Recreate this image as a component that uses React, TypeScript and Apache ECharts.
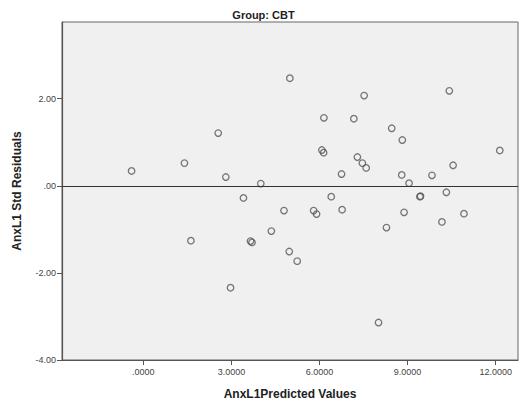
import React, { useEffect, useRef } from "react";
import * as echarts from "echarts";

// Predicted values (x) and standardized residuals (y), group CBT
const predicted = [
  -0.4, 1.4, 1.62, 2.55, 2.81, 2.97, 3.41, 3.65, 3.7, 4.0, 4.36, 4.79, 4.97, 4.99,
  5.24, 5.8, 5.9, 6.08, 6.14, 6.15, 6.4, 6.75, 6.77, 7.17, 7.29, 7.46, 7.52, 7.59,
  8.01, 8.28, 8.46, 8.8, 8.82, 8.88, 9.05, 9.42, 9.44, 9.83, 10.17, 10.32, 10.42,
  10.55, 10.92, 12.14,
];
const residuals = [
  0.34, 0.52, -1.26, 1.21, 0.2, -2.34, -0.28, -1.27, -1.3, 0.05, -1.04, -0.57, -1.51,
  2.47, -1.73, -0.57, -0.65, 0.82, 0.76, 1.56, -0.25, 0.27, -0.55, 1.54, 0.66, 0.52,
  2.07, 0.41, -3.14, -0.96, 1.32, 0.25, 1.05, -0.61, 0.06, -0.25, -0.24, 0.24, -0.83,
  -0.15, 2.18, 0.47, -0.64, 0.81,
];
const xTicks = [0, 3, 6, 9, 12];
const yTicks = [-4, -2, 0, 2];

const fmt = (v: number, d: number) => (v === 0 ? "." + "0".repeat(d) : v.toFixed(d));

export default function App() {
  const ref = useRef<HTMLDivElement>(null);
  useEffect(() => {
    if (!ref.current) return;
    const chart = echarts.init(ref.current, undefined, { renderer: "svg" });
    const font = "Liberation Sans, Arial, sans-serif";
    chart.setOption({
      animation: false,
      backgroundColor: "#ffffff",
      textStyle: { fontFamily: font },
      title: {
        text: "Group: CBT",
        left: "center",
        top: 4,
        textStyle: { fontSize: 11, fontWeight: "bold", color: "#222", fontFamily: font },
      },
      grid: {
        left: 62,
        right: 9,
        top: 22,
        bottom: 48,
        show: true,
        backgroundColor: "#f0f0f0",
        borderColor: "#666",
        borderWidth: 1,
      },
      xAxis: {
        type: "value",
        min: -2.77,
        max: 12.76,
        name: "AnxL1Predicted Values",
        nameLocation: "middle",
        nameGap: 28,
        nameTextStyle: { fontSize: 12, fontWeight: "bold", color: "#222", fontFamily: font },
        axisLine: { show: true, onZero: false, lineStyle: { color: "#555", width: 1.2 } },
        axisTick: { show: true, length: 5, customValues: xTicks, lineStyle: { color: "#555" } },
        axisLabel: {
          customValues: xTicks,
          formatter: (v: number) => fmt(v, 4),
          fontSize: 9,
          color: "#444",
          margin: 7,
          fontFamily: font,
        },
        splitLine: { show: false },
      },
      yAxis: {
        type: "value",
        min: -4,
        max: 3.76,
        name: "AnxL1 Std Residuals",
        nameLocation: "middle",
        nameGap: 39,
        nameTextStyle: { fontSize: 12, fontWeight: "bold", color: "#222", fontFamily: font },
        axisLine: { show: true, onZero: false, lineStyle: { color: "#555", width: 1.2 } },
        axisTick: { show: true, length: 5, customValues: yTicks, lineStyle: { color: "#555" } },
        axisLabel: {
          customValues: yTicks,
          formatter: (v: number) => fmt(v, 2),
          fontSize: 9,
          color: "#444",
          margin: 6,
          fontFamily: font,
        },
        splitLine: { show: false },
      },
      series: [
        {
          type: "scatter",
          data: predicted.map((x, i) => [x, residuals[i]]),
          symbol: "circle",
          symbolSize: 6.5,
          itemStyle: { color: "rgba(0,0,0,0)", borderColor: "#555", borderWidth: 1.3 },
          markLine: {
            silent: true,
            symbol: "none",
            label: { show: false },
            lineStyle: { color: "#333", width: 1.2, type: "solid" },
            data: [{ yAxis: 0 }],
          },
        },
      ],
    });
    return () => chart.dispose();
  }, []);
  return (
    <div
      ref={ref}
      style={{ position: "fixed", left: 0, top: 0, width: 527, height: 408 }}
    />
  );
}
